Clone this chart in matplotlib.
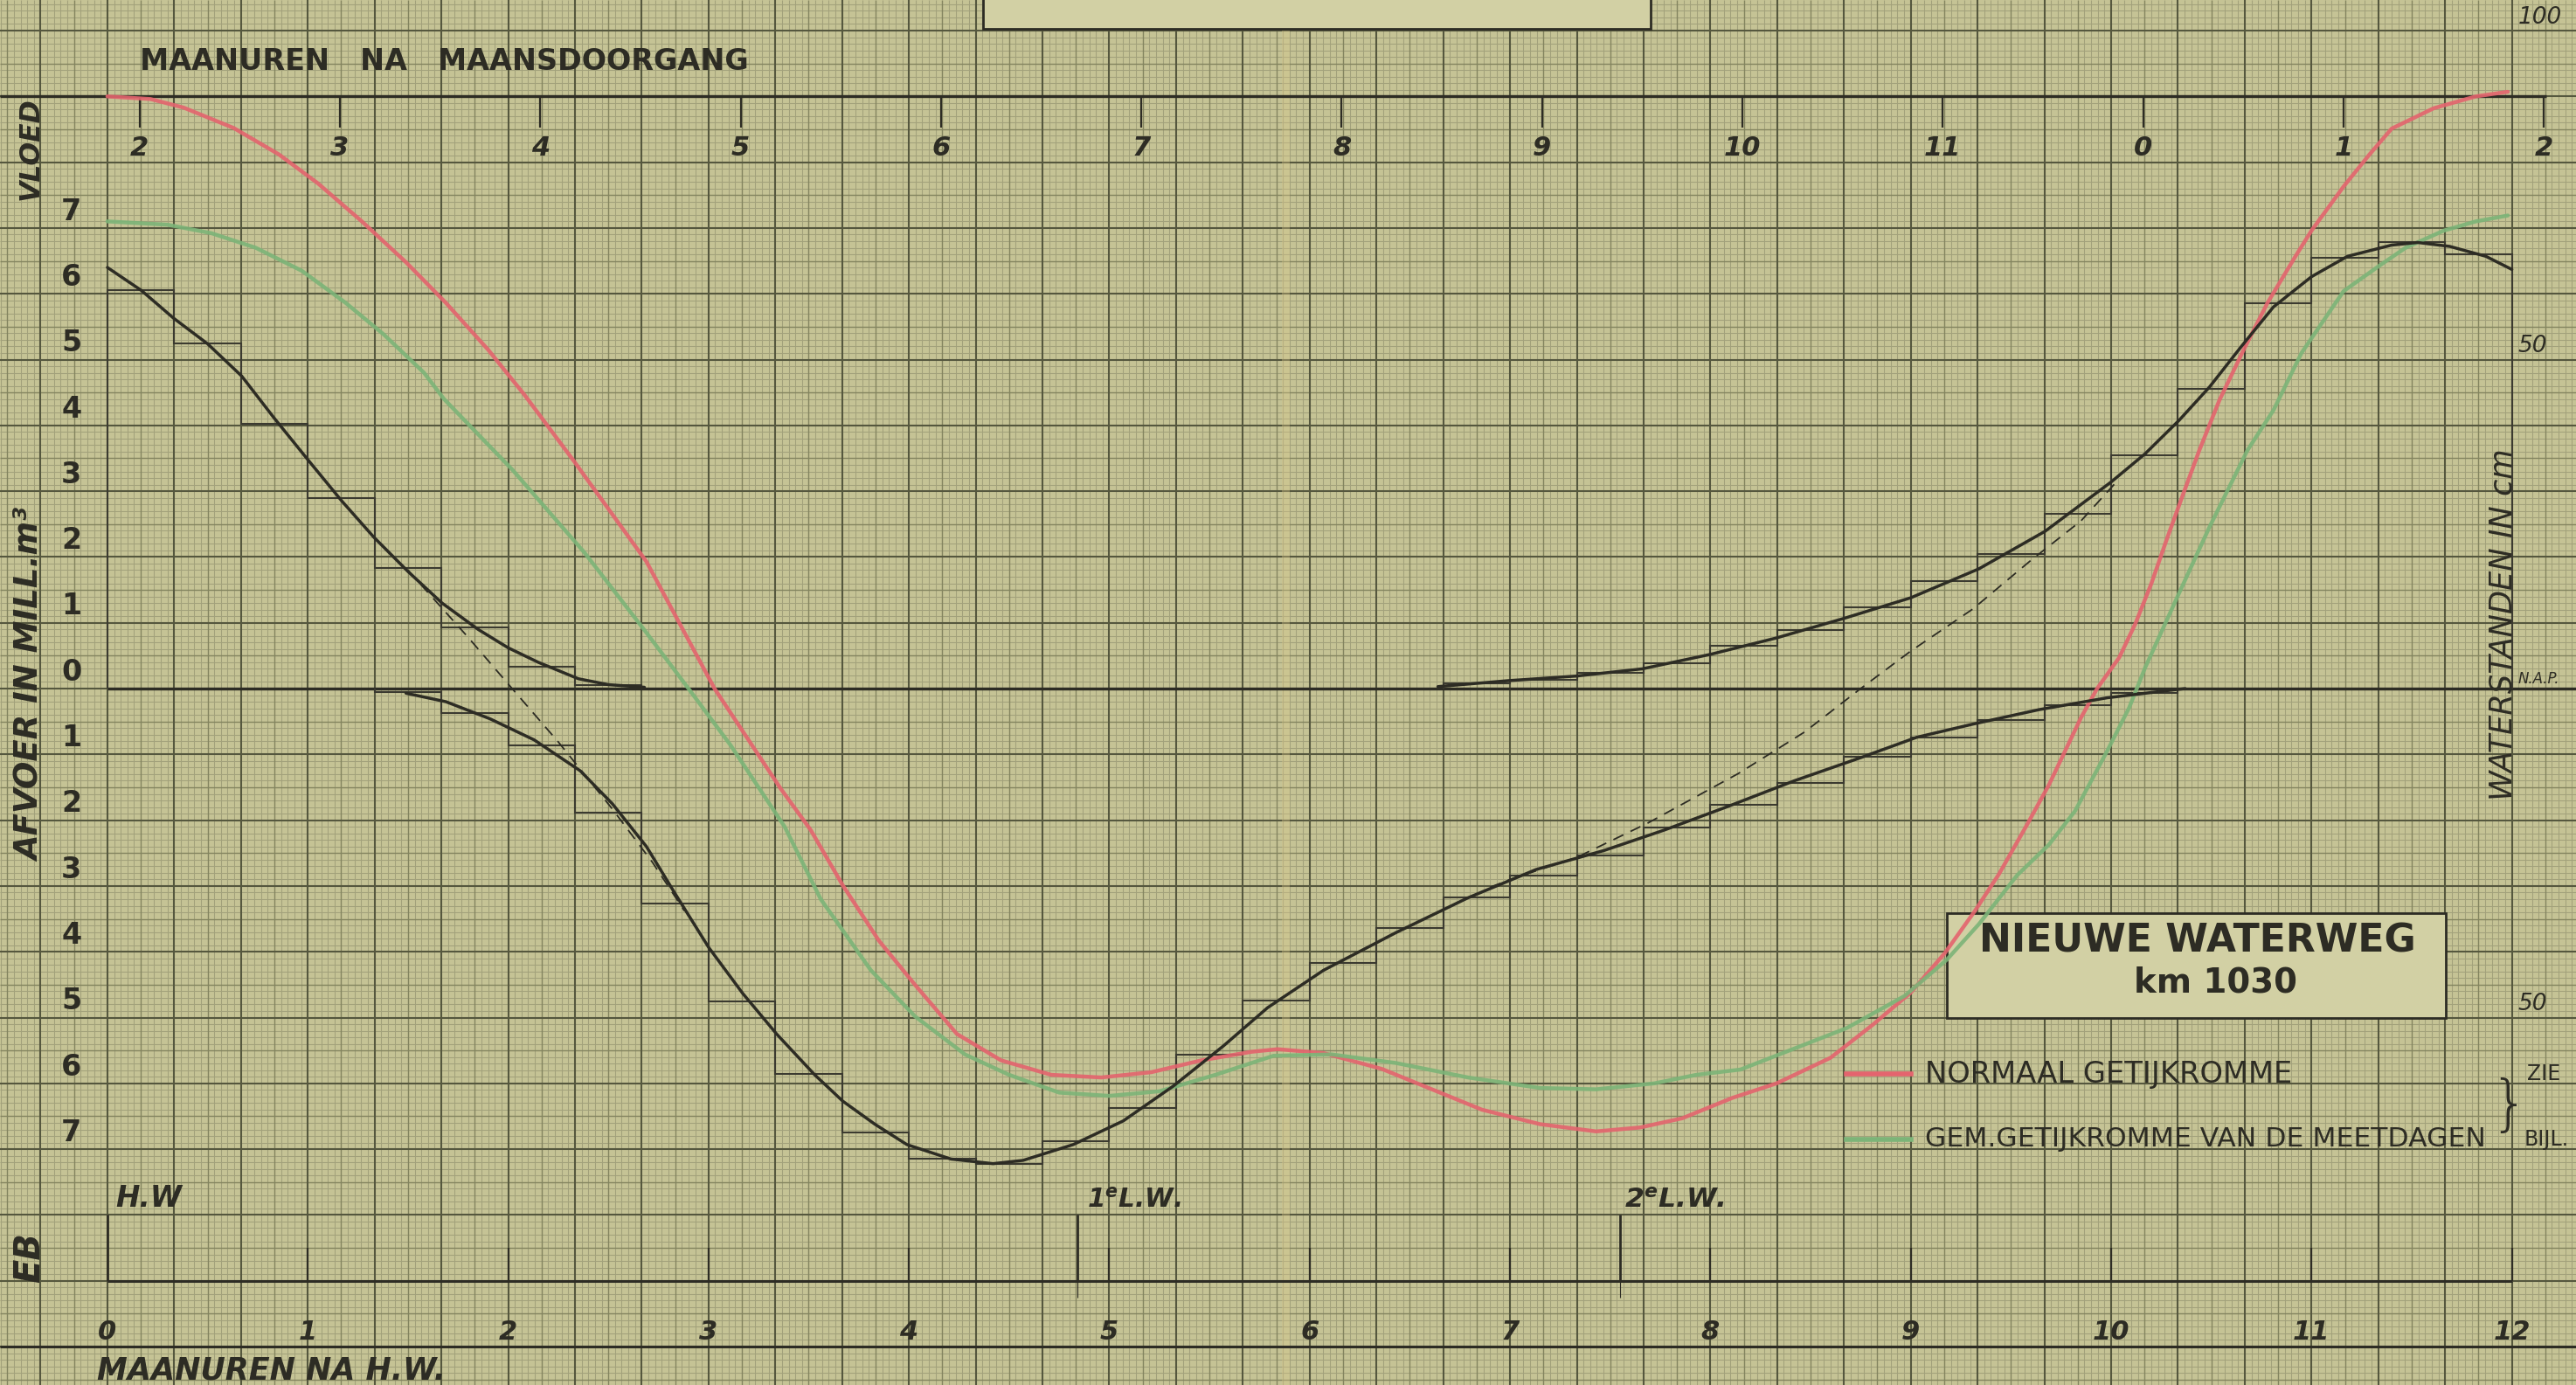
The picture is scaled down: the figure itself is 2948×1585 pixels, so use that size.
import numpy as np
import matplotlib.pyplot as plt
from matplotlib.patches import Rectangle

# ---- values ----
# x: maanuren na H.W. (lunar hours after high water)
# y: afvoer in mill. m3 (black) / waterstand in dm (red, green)

step_width = 1 / 3

flood1_start = 0.0
flood1_steps = [6.05, 5.24, 4.03, 2.89, 1.83, 0.93, 0.33, 0.05]
ebb_start = 4 / 3
ebb_steps = [-0.05, -0.37, -0.86, -1.89, -3.27, -4.76, -5.85, -6.75, -7.15, -7.23,
             -6.88, -6.38, -5.57, -4.74, -4.17, -3.64, -3.17, -2.84, -2.53, -2.11,
             -1.77, -1.44, -1.04, -0.74, -0.48, -0.25, -0.06]
flood2_start = 20 / 3
flood2_steps = [0.08, 0.13, 0.235, 0.39, 0.65, 0.89, 1.24, 1.64, 2.04, 2.66,
                3.55, 4.55, 5.86, 6.55, 6.79, 6.6]

flood1_x = [0, 0.17, 0.33, 0.5, 0.67, 0.83, 1.0, 1.17, 1.33, 1.5, 1.67, 1.85, 2.0,
            2.15, 2.35, 2.5, 2.68]
flood1_y = [6.4, 6.05, 5.63, 5.24, 4.75, 4.12, 3.48, 2.85, 2.3, 1.78, 1.3, 0.9, 0.62,
            0.4, 0.15, 0.06, 0.02]

ebb_x = [1.49, 1.69, 1.91, 2.13, 2.36, 2.52, 2.69, 2.83, 3.0, 3.17, 3.34, 3.53, 3.67,
         3.83, 3.99, 4.21, 4.42, 4.57, 4.82, 5.07, 5.32, 5.57, 5.79, 6.07, 6.43, 6.79,
         7.13, 7.47, 7.77, 8.08, 8.42, 8.75, 9.03, 9.31, 9.64, 9.98, 10.31, 10.37]
ebb_y = [-0.07, -0.2, -0.46, -0.78, -1.25, -1.75, -2.4, -3.1, -3.93, -4.63, -5.25,
         -5.87, -6.27, -6.62, -6.93, -7.15, -7.22, -7.17, -6.93, -6.57, -6.04, -5.43,
         -4.85, -4.28, -3.71, -3.18, -2.75, -2.46, -2.15, -1.8, -1.4, -1.05, -0.74,
         -0.54, -0.32, -0.14, -0.02, 0.0]

flood2_x = [6.64, 6.99, 7.33, 7.66, 8.0, 8.33, 8.67, 9.0, 9.34, 9.67, 10.0, 10.17,
            10.34, 10.49, 10.65, 10.81, 11.0, 11.18, 11.4, 11.53, 11.69, 11.87, 12.0]
flood2_y = [0.03, 0.12, 0.19, 0.30, 0.52, 0.77, 1.07, 1.38, 1.82, 2.39, 3.14, 3.57,
            4.08, 4.58, 5.2, 5.8, 6.26, 6.57, 6.74, 6.78, 6.72, 6.57, 6.37]

dash1_x = [1.5, 1.8, 2.02, 2.25, 2.52, 2.72, 2.88]
dash1_y = [1.8, 0.78, 0.0, -0.81, -1.83, -2.64, -3.38]
dash2_x = [6.9, 7.02, 7.33, 7.69, 8.14, 8.47, 8.75, 9.0, 9.31, 9.6, 9.85, 10.02]
dash2_y = [-3.02, -2.88, -2.57, -2.04, -1.29, -0.66, 0.0, 0.57, 1.21, 1.95, 2.55, 3.12]

normaal_x = [0.0, 0.215, 0.38, 0.63, 0.855, 1.05, 1.27, 1.49, 1.69, 1.9, 2.08, 2.33,
             2.69, 3.03, 3.36, 3.51, 3.67, 3.85, 4.03, 4.24, 4.46, 4.71, 4.96, 5.21,
             5.46, 5.71, 5.84, 6.07, 6.36, 6.61, 6.86, 7.15, 7.43, 7.65, 7.86, 8.11,
             8.33, 8.6, 8.81, 9.0, 9.17, 9.32, 9.44, 9.58, 9.69, 9.85, 9.93, 10.04,
             10.12, 10.2, 10.28, 10.36, 10.44, 10.54, 10.66, 10.78, 10.92, 11.0,
             11.16, 11.29, 11.4, 11.61, 11.82, 11.98]
normaal_y = [9.0, 8.96, 8.83, 8.52, 8.12, 7.68, 7.1, 6.48, 5.86, 5.15, 4.47, 3.45,
             1.93, 0.0, -1.52, -2.15, -2.99, -3.83, -4.5, -5.25, -5.65, -5.87, -5.91,
             -5.83, -5.65, -5.52, -5.48, -5.54, -5.78, -6.09, -6.4, -6.62, -6.73, -6.67,
             -6.53, -6.22, -6.0, -5.61, -5.11, -4.62, -4.02, -3.38, -2.82, -2.07, -1.46,
             -0.44, 0.0, 0.47, 0.98, 1.59, 2.29, 2.96, 3.62, 4.38, 5.14, 5.86, 6.57,
             6.96, 7.63, 8.12, 8.51, 8.82, 9.0, 9.07]

meetdagen_x = [0.0, 0.3, 0.52, 0.74, 0.97, 1.19, 1.38, 1.58, 1.68, 2.02, 2.38, 2.69,
               2.9, 3.11, 3.38, 3.56, 3.81, 4.03, 4.28, 4.5, 4.75, 5.0, 5.25, 5.53,
               5.82, 6.11, 6.43, 6.79, 7.15, 7.43, 7.72, 7.93, 8.15, 8.47, 8.68, 8.97,
               9.18, 9.34, 9.53, 9.69, 9.82, 9.98, 10.09, 10.17, 10.33, 10.49, 10.68,
               10.81, 10.95, 11.16, 11.34, 11.47, 11.66, 11.82, 11.98]
meetdagen_y = [7.1, 7.05, 6.92, 6.7, 6.35, 5.86, 5.38, 4.8, 4.4, 3.33, 2.07, 0.85,
               0.0, -0.86, -2.1, -3.2, -4.28, -4.98, -5.56, -5.87, -6.14, -6.19, -6.12,
               -5.87, -5.58, -5.56, -5.69, -5.91, -6.07, -6.09, -6.0, -5.87, -5.79,
               -5.41, -5.16, -4.67, -4.12, -3.58, -2.84, -2.37, -1.86, -0.95, -0.29,
               0.32, 1.39, 2.45, 3.62, 4.23, 5.1, 6.04, 6.43, 6.7, 6.96, 7.1, 7.19]

lw1_time = 4.84   # 1e L.W.
lw2_time = 7.55   # 2e L.W.
hw_ticks = list(range(1, 13))
bottom_labels = [str(h) for h in range(13)]
top_labels = ['2', '3', '4', '5', '6', '7', '8', '9', '10', '11', '0', '1', '2']
top_offset = 0.16
left_labels = ['7', '6', '5', '4', '3', '2', '1', '0', '1', '2', '3', '4', '5', '6', '7']
left_levels = [7, 6, 5, 4, 3, 2, 1, 0, -1, -2, -3, -4, -5, -6, -7]
level_labels = ['100', '50', 'N.A.P.', '50']
level_pos = [10, 5, 0, -5]

# ---- figure ----
ink = '#2d2c24'
paper = '#c5c395'
red = '#e4646e'
green = '#7cb478'

xlo, xhi = -0.536, 12.32
ylo, yhi = -10.584, 10.465

fig = plt.figure(figsize=(29.48, 15.85), dpi=100)
fig.patch.set_facecolor(paper)
ax = fig.add_axes([0, 0, 1, 1])
ax.set_facecolor(paper)
ax.set_xlim(xlo, xhi)
ax.set_ylim(ylo, yhi)
ax.axis('off')

# graph paper: mm / 5 mm / cm
ix = np.arange(-18, 372)
iy = np.arange(-106, 106)
for sel_x, sel_y, c, w in [
        (ix % 5 != 0, iy % 5 != 0, '#a2a17b', 0.75),
        ((ix % 5 == 0) & (ix % 10 != 0), (iy % 5 == 0) & (iy % 10 != 0), '#83845f', 1.0),
        (ix % 10 == 0, iy % 10 == 0, '#55573e', 1.5)]:
    ax.vlines(ix[sel_x] / 30, ylo, yhi, color=c, lw=w, zorder=0)
    ax.hlines(iy[sel_y] / 10, xlo, xhi, color=c, lw=w, zorder=0)

# fold in the paper
ax.axvspan(5.86, 5.9, color='#d9c98a', alpha=0.35, lw=0, zorder=0.5)

# drawn axis lines
ax.hlines(0, 0, xhi, color=ink, lw=2.4, zorder=2)
ax.hlines(9, xlo, 12.17, color=ink, lw=2.4, zorder=2)
ax.hlines(-10, xlo, xhi, color=ink, lw=2.2, zorder=2)
ax.hlines(-9, 0, 12, color=ink, lw=2.2, zorder=2)
ax.vlines(0, -9, -8, color=ink, lw=2.0, zorder=2)
ax.vlines(hw_ticks, -9, -8.5, color=ink, lw=1.6, zorder=2)
ax.vlines([lw1_time, lw2_time], -9, -8, color=ink, lw=2.0, zorder=2)
ax.vlines([lw1_time, lw2_time], -9.25, -9, color=ink, lw=0.8, zorder=2)

top_pos = top_offset + np.arange(len(top_labels))
ax.vlines(top_pos, 8.52, 9, color=ink, lw=1.6, zorder=2)

# boxes
ax.add_patch(Rectangle((4.37, 10.03), 3.33, 0.6, facecolor='#d2d0a4',
                       edgecolor=ink, lw=2.0, zorder=3))
ax.add_patch(Rectangle((9.18, -5.0), 2.49, 1.59, facecolor='#d2d0a4',
                       edgecolor=ink, lw=2.0, zorder=3))

# steps
for start, vals in [(flood1_start, flood1_steps), (ebb_start, ebb_steps),
                    (flood2_start, flood2_steps)]:
    edges = start + step_width * np.arange(len(vals) + 1)
    ax.stairs(vals, edges, baseline=0, color='#3b3a30', lw=1.5, zorder=4)

# getijkrommen
ax.plot(normaal_x, normaal_y, color=red, lw=3.2, alpha=0.9, zorder=5,
        solid_capstyle='round', solid_joinstyle='round')
ax.plot(meetdagen_x, meetdagen_y, color=green, lw=3.2, alpha=0.9, zorder=5,
        solid_capstyle='round', solid_joinstyle='round')

# afvoer curves
for xs, ys in [(flood1_x, flood1_y), (ebb_x, ebb_y), (flood2_x, flood2_y)]:
    ax.plot(xs, ys, color=ink, lw=2.5, zorder=6, solid_capstyle='round',
            solid_joinstyle='round')
for xs, ys in [(dash1_x, dash1_y), (dash2_x, dash2_y)]:
    ax.plot(xs, ys, color=ink, lw=1.3, ls=(0, (7, 5)), zorder=6)

# legend
ax.plot([8.68, 9.0], [-5.86, -5.86], color=red, lw=4, zorder=5)
ax.plot([8.68, 9.0], [-6.85, -6.85], color=green, lw=4, zorder=5)

# ---- texts ----
renderer = fig.canvas.get_renderer()


def fit(t, width_px, vertical=False):
    bb = t.get_window_extent(renderer)
    w = bb.height if vertical else bb.width
    t.set_fontsize(t.get_fontsize() * width_px / w)
    return t


txt = dict(color=ink, fontweight='bold', zorder=7)

for p, lab in zip(top_pos, top_labels):
    ax.text(p, 8.02, lab, ha='center', va='bottom', fontsize=22, style='italic', **txt)
for lv, lab in zip(left_levels, left_labels):
    ax.text(-0.18, lv + 0.03, lab, ha='center', va='bottom', fontsize=24, **txt)
for h, lab in enumerate(bottom_labels):
    ax.text(h, -9.97, lab, ha='center', va='bottom', fontsize=22, style='italic', **txt)
for lv, lab in zip(level_pos, level_labels):
    ax.text(12.03, lv + 0.03, lab, ha='left', va='bottom',
            fontsize=12 if lab == 'N.A.P.' else 19, style='italic', color=ink, zorder=7)

fit(ax.text(0.16, 9.53, 'MAANUREN   NA   MAANSDOORGANG', ha='left', va='center',
            fontsize=22, **txt), 692)
fit(ax.text(-0.05, -10.36, 'MAANUREN NA H.W.', ha='left', va='center', fontsize=22,
            style='italic', **txt), 398)
fit(ax.text(-0.385, 8.2, 'VLOED', rotation=90, ha='center', va='center', fontsize=24,
            style='italic', **txt), 118, True)
fit(ax.text(-0.385, 0.05, 'AFVOER IN MILL.m³', rotation=90, ha='center', va='center',
            fontsize=24, style='italic', **txt), 405, True)
fit(ax.text(-0.385, -8.65, 'EB', rotation=90, ha='center', va='center', fontsize=24,
            style='italic', **txt), 58, True)
fit(ax.text(11.955, 0.97, 'WATERSTANDEN IN cm', rotation=90, ha='center', va='center',
            fontsize=22, style='italic', color=ink, zorder=7), 403, True)

fit(ax.text(0.04, -7.97, 'H.W', ha='left', va='bottom', fontsize=20, style='italic',
            **txt), 76)
fit(ax.text(lw1_time + 0.05, -7.97, r'1$^\mathregular{e}$L.W.', ha='left', va='bottom',
            fontsize=20, style='italic', **txt), 108)
fit(ax.text(lw2_time + 0.02, -7.97, r'2$^\mathregular{e}$L.W.', ha='left', va='bottom',
            fontsize=20, style='italic', **txt), 115)

fit(ax.text(10.43, -3.84, 'NIEUWE WATERWEG', ha='center', va='center', fontsize=30,
            **txt), 500)
fit(ax.text(10.52, -4.47, 'km 1030', ha='center', va='center', fontsize=30, **txt), 187)

fit(ax.text(9.07, -5.86, 'NORMAAL GETIJKROMME', ha='left', va='center', fontsize=20,
            color=ink, zorder=7), 420)
fit(ax.text(9.07, -6.85, 'GEM.GETIJKROMME VAN DE MEETDAGEN', ha='left', va='center',
            fontsize=20, color=ink, zorder=7), 640)
ax.text(11.985, -6.36, '}', ha='center', va='center', fontsize=50, color=ink,
        fontweight='light', zorder=7)
ax.text(12.075, -5.86, 'ZIE', ha='left', va='center', fontsize=17, color=ink, zorder=7)
ax.text(12.06, -6.85, 'BIJL.', ha='left', va='center', fontsize=17, color=ink, zorder=7)

fig.savefig('out.png', dpi=100, facecolor=paper)
